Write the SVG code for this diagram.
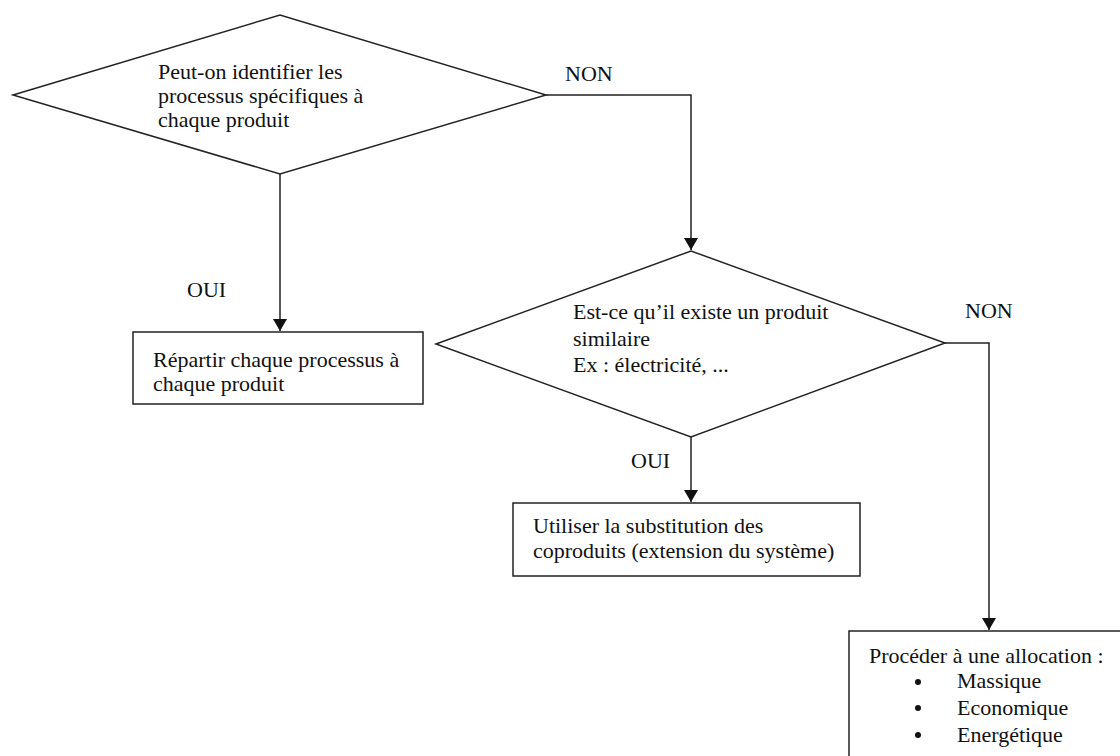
<svg xmlns="http://www.w3.org/2000/svg" width="1120" height="756" viewBox="0 0 1120 756">
<defs>
<style>
.shape{fill:#fff;stroke:#222;stroke-width:1.5}
.line{fill:none;stroke:#222;stroke-width:1.5}
.t{font-family:"Liberation Serif","Times New Roman",serif;font-size:22px;fill:#111}
</style>
<marker id="arr" viewBox="0 0 12 14" refX="12" refY="7" markerWidth="12" markerHeight="14" markerUnits="userSpaceOnUse" orient="auto">
<path d="M0,0 L12,7 L0,14 Z" fill="#111"/>
</marker>
</defs>
<rect width="1120" height="756" fill="#fff"/>
<g id="connectors">
<polyline class="line" points="546,95 691,95 691,250" marker-end="url(#arr)"/>
<line class="line" x1="280" y1="174" x2="280" y2="331" marker-end="url(#arr)"/>
<polyline class="line" points="945,343 989,343 989,630" marker-end="url(#arr)"/>
<line class="line" x1="691" y1="437" x2="691" y2="502" marker-end="url(#arr)"/>
<text class="t" x="565" y="81">NON</text>
<text class="t" x="187" y="297">OUI</text>
<text class="t" x="965" y="318">NON</text>
<text class="t" x="631" y="468">OUI</text>
</g>
<g id="decision1">
<polygon class="shape" points="13,95 280,15 546,95 280,174"/>
<text class="t" x="158" y="79">Peut-on identifier les</text>
<text class="t" x="158" y="103">processus spécifiques à</text>
<text class="t" x="158" y="127">chaque produit</text>
</g>
<g id="box1">
<rect class="shape" x="133" y="332" width="290" height="72"/>
<text class="t" x="153" y="367">Répartir chaque processus à</text>
<text class="t" x="153" y="391">chaque produit</text>
</g>
<g id="decision2">
<polygon class="shape" points="436,344 691,251 945,343 691,437"/>
<text class="t" x="573" y="319">Est-ce qu’il existe un produit</text>
<text class="t" x="573" y="346">similaire</text>
<text class="t" x="573" y="372">Ex : électricité, ...</text>
</g>
<g id="box2">
<rect class="shape" x="513" y="503" width="347" height="73"/>
<text class="t" x="533" y="533">Utiliser la substitution des</text>
<text class="t" x="533" y="558">coproduits (extension du système)</text>
</g>
<g id="box3">
<rect class="shape" x="849" y="631" width="300" height="200"/>
<text class="t" x="869" y="663">Procéder à une allocation :</text>
<circle cx="918" cy="682" r="3" fill="#111"/>
<circle cx="918" cy="708" r="3" fill="#111"/>
<circle cx="918" cy="735" r="3" fill="#111"/>
<text class="t" x="957" y="688">Massique</text>
<text class="t" x="957" y="715">Economique</text>
<text class="t" x="957" y="742">Energétique</text>
</g>
</svg>
